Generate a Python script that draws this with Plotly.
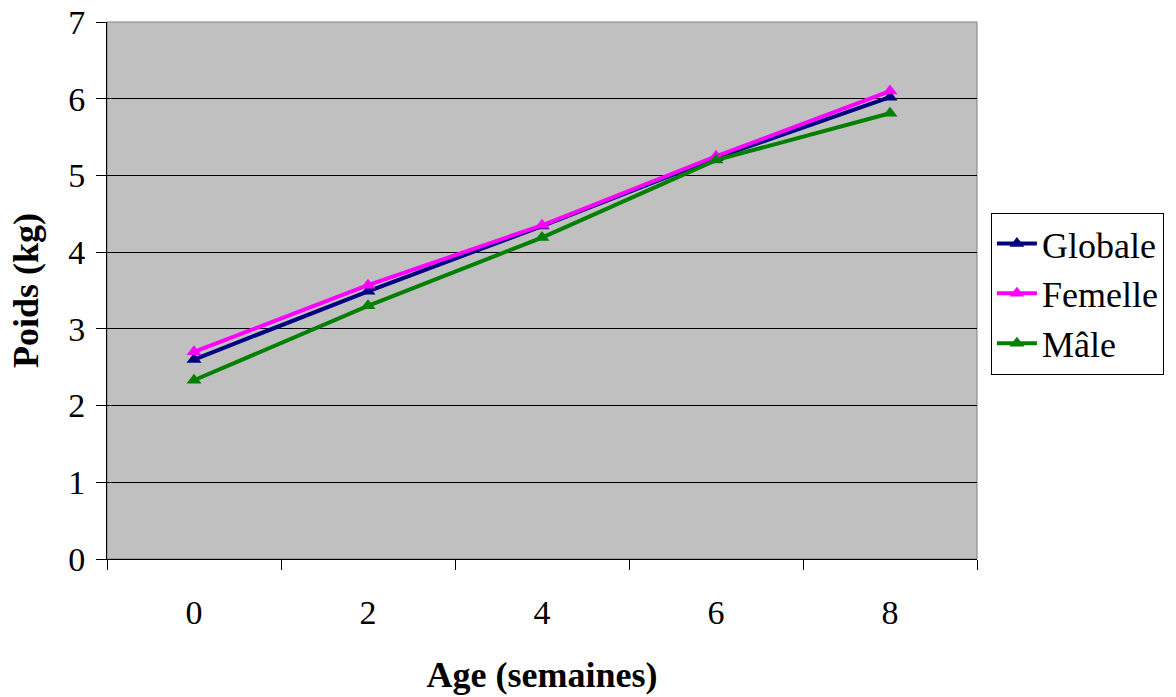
import plotly.graph_objects as go

ages = ["0", "2", "4", "6", "8"]
globale = [2.60, 3.49, 4.34, 5.23, 6.02]
femelle = [2.70, 3.57, 4.35, 5.25, 6.10]
male = [2.33, 3.30, 4.19, 5.20, 5.81]

series = [("Globale", globale, "#000080"), ("Femelle", femelle, "#FF00FF"), ("Mâle", male, "#008000")]

FAM = "Liberation Serif"

fig = go.Figure()
for name, vals, col in series:
    fig.add_trace(go.Scatter(x=ages, y=vals, name=name, mode="lines+markers",
                             line=dict(color=col, width=4),
                             marker=dict(symbol="triangle-up", size=13, color=col)))

fig.update_layout(
    width=1176, height=697,
    margin=dict(l=107, r=197, t=22, b=138),
    paper_bgcolor="white", plot_bgcolor="#C0C0C0",
    font=dict(family=FAM, size=34, color="black"),
    showlegend=True,
    legend=dict(x=1.016, y=0.645, xanchor="left", yanchor="top",
                bordercolor="black", borderwidth=1, bgcolor="white",
                font=dict(size=36, family=FAM, color="black"), itemwidth=40, tracegroupgap=0),
    xaxis=dict(type="category", tickson="boundaries", ticks="outside", ticklen=10,
               tickcolor="black", showgrid=False, showline=True, linecolor="black",
               linewidth=1, mirror=False, zeroline=False, automargin=False,
               ticklabelstandoff=23,
               title=dict(text="<b>Age (semaines)</b>", standoff=32,
                          font=dict(size=36, family=FAM, color="black")),
               tickfont=dict(size=34, family=FAM, color="black"), range=[-0.5, 4.5]),
    yaxis=dict(range=[0, 7], dtick=1, ticks="outside", ticklen=10, tickcolor="black",
               showgrid=True, gridcolor="#000000", gridwidth=1, showline=True,
               linecolor="black", zeroline=False, automargin=False,
               ticklabelstandoff=4,
               title=dict(text="<b>Poids (kg)</b>", standoff=18,
                          font=dict(size=36, family=FAM, color="black")),
               tickfont=dict(size=34, family=FAM, color="black")),
)
fig.add_shape(type="rect", xref="paper", yref="paper", x0=0, y0=0, x1=1, y1=1,
              line=dict(color="#808080", width=1), layer="below")
fig.write_html("out.html")
